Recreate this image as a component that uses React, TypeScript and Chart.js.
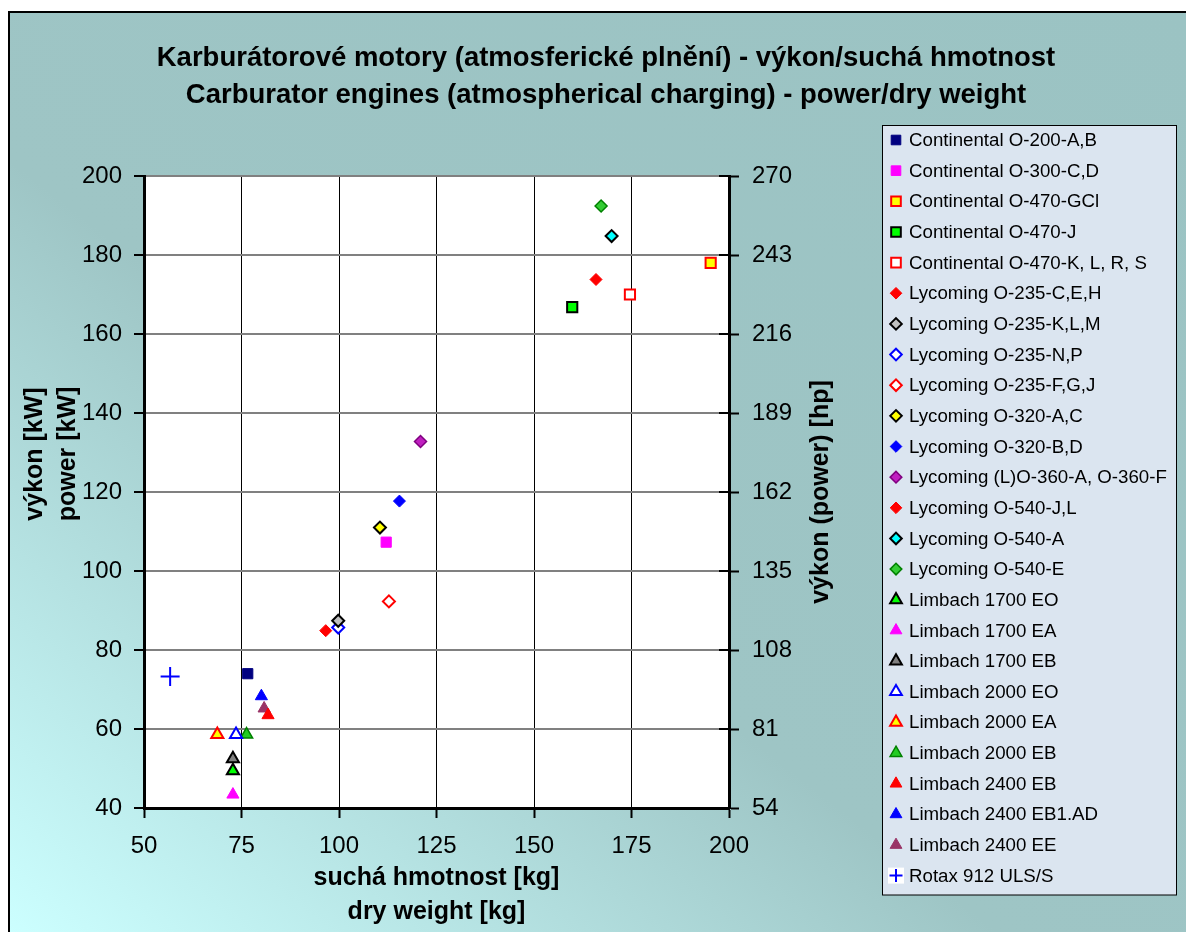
import React, { useEffect, useRef } from 'react';
import { Chart, registerables } from 'chart.js';

Chart.register(...registerables);

const FONT = '"Liberation Sans", Arial, Helvetica, sans-serif';

// ---- data ----
const seriesNames = [
  'Continental O-200-A,B',
  'Continental O-300-C,D',
  'Continental O-470-GCl',
  'Continental O-470-J',
  'Continental O-470-K, L, R, S',
  'Lycoming O-235-C,E,H',
  'Lycoming O-235-K,L,M',
  'Lycoming O-235-N,P',
  'Lycoming O-235-F,G,J',
  'Lycoming O-320-A,C',
  'Lycoming O-320-B,D',
  'Lycoming (L)O-360-A, O-360-F',
  'Lycoming O-540-J,L',
  'Lycoming O-540-A',
  'Lycoming O-540-E',
  'Limbach 1700 EO',
  'Limbach 1700 EA',
  'Limbach 1700 EB',
  'Limbach 2000 EO',
  'Limbach 2000 EA',
  'Limbach 2000 EB',
  'Limbach 2400 EB',
  'Limbach 2400 EB1.AD',
  'Limbach 2400 EE',
  'Rotax 912 ULS/S',
];

const dryWeightKg = [
  76.6, 112.1, 195.3, 159.8, 174.6,
  96.6, 99.8, 99.8, 112.8, 110.5, 115.5, 120.9, 165.9, 169.9, 167.2,
  72.8, 72.8, 72.8, 73.6, 68.8, 76.3, 81.8, 80.1, 80.8,
  56.7,
];

const powerKW = [
  74.0, 107.3, 178.0, 166.8, 170.0,
  84.9, 87.4, 85.7, 92.3, 111.0, 117.7, 132.8, 173.8, 184.8, 192.4,
  49.4, 43.4, 52.5, 58.6, 58.6, 58.6, 63.5, 68.3, 65.2,
  73.3,
];

const xTickValues = [50, 75, 100, 125, 150, 175, 200];
const kwTickValues = [40, 60, 80, 100, 120, 140, 160, 180, 200];
const hpTickValues = [54, 81, 108, 135, 162, 189, 216, 243, 270];

const titleLines = [
  'Karburátorové motory (atmosferické plnění) - výkon/suchá hmotnost',
  'Carburator engines (atmospherical charging) - power/dry weight',
];
const xTitleLines = ['suchá hmotnost [kg]', 'dry weight [kg]'];
const yTitleLines = ['výkon [kW]', 'power [kW]'];
const y2Title = 'výkon (power) [hp]';

// ---- styles ----
const markerStyle = [
  'rect', 'rect', 'rect', 'rect', 'rect',
  'rectRot', 'rectRot', 'rectRot', 'rectRot', 'rectRot', 'rectRot', 'rectRot', 'rectRot', 'rectRot', 'rectRot',
  'triangle', 'triangle', 'triangle', 'triangle', 'triangle', 'triangle', 'triangle', 'triangle', 'triangle',
  'cross',
];
const fillColors = [
  '#000080', '#FF00FF', '#FFFF00', '#00FF00', '#FFFFFF',
  '#FF0000', '#C0C0C0', '#FFFFFF', '#FFFFFF', '#FFFF00', '#0000FF', '#C020C0', '#FF0000', '#00FFFF', '#33CC33',
  '#00FF00', '#FF00FF', '#808080', '#FFFFFF', '#FFFF00', '#22CC22', '#FF0000', '#0000FF', '#993366',
  '#0000FF',
];
const strokeColors = [
  '#000080', '#FF00FF', '#FF0000', '#000000', '#FF0000',
  '#FF0000', '#000000', '#0000FF', '#FF0000', '#000000', '#0000FF', '#800080', '#FF0000', '#000000', '#008000',
  '#000000', '#FF00FF', '#000000', '#0000FF', '#FF0000', '#008000', '#FF0000', '#0000FF', '#993366',
  '#0000FF',
];
const strokeWidths = [
  1, 1, 2, 2, 2,
  1, 2, 2, 2, 2, 1, 1.5, 1, 2, 1.5,
  2, 1, 2, 2, 2, 1.5, 1, 1, 1,
  2,
];
const plotRadius: Record<string, number> = { rect: 7.2, rectRot: 6, triangle: 7, cross: 9.5 };
const legendRadius: Record<string, number> = { rect: 6.8, rectRot: 5.8, triangle: 6.8, cross: 6.5 };

function drawMarker(ctx: CanvasRenderingContext2D, style: string, x: number, y: number, r: number,
  fill: string, stroke: string, lw: number) {
  ctx.save();
  ctx.beginPath();
  if (style === 'rect') {
    const s = Math.SQRT1_2 * r;
    ctx.rect(x - s, y - s, 2 * s, 2 * s);
  } else if (style === 'rectRot') {
    ctx.moveTo(x - r, y);
    ctx.lineTo(x, y - r);
    ctx.lineTo(x + r, y);
    ctx.lineTo(x, y + r);
    ctx.closePath();
  } else if (style === 'triangle') {
    const a = (2 * Math.PI) / 3;
    ctx.moveTo(x, y - r);
    ctx.lineTo(x + Math.sin(a) * r, y - Math.cos(a) * r);
    ctx.lineTo(x + Math.sin(2 * a) * r, y - Math.cos(2 * a) * r);
    ctx.closePath();
  } else if (style === 'cross') {
    ctx.fillStyle = '#FFFFFF';
    ctx.fillRect(x - 8, y - 8, 16, 16);
    ctx.beginPath();
    ctx.moveTo(x, y - r);
    ctx.lineTo(x, y + r);
    ctx.moveTo(x - r, y);
    ctx.lineTo(x + r, y);
    ctx.strokeStyle = stroke;
    ctx.lineWidth = lw;
    ctx.stroke();
    ctx.restore();
    return;
  }
  ctx.fillStyle = fill;
  ctx.fill();
  ctx.strokeStyle = stroke;
  ctx.lineWidth = lw;
  ctx.stroke();
  ctx.restore();
}

const decorPlugin = {
  id: 'decor',
  beforeDraw(chart: any) {
    const { ctx, width, height, chartArea } = chart;
    ctx.save();
    // gradient background
    ctx.save();
    ctx.translate(0, 4);
    ctx.scale(width, height - 4);
    const g = ctx.createLinearGradient(0, 1, 1, 0);
    g.addColorStop(0, '#CCFFFF');
    g.addColorStop(0.42, '#9EC5C5');
    g.addColorStop(1, '#9BC3C3');
    ctx.fillStyle = g;
    ctx.fillRect(0, 0, 1, 1);
    ctx.restore();
    // frame
    ctx.strokeStyle = '#000';
    ctx.lineWidth = 2;
    ctx.beginPath();
    ctx.moveTo(1, height);
    ctx.lineTo(1, 4);
    ctx.lineTo(width, 4);
    ctx.stroke();
    // plot area
    ctx.fillStyle = '#FFFFFF';
    ctx.fillRect(chartArea.left, chartArea.top, chartArea.right - chartArea.left, chartArea.bottom - chartArea.top);
    // legend box
    ctx.fillStyle = '#DBE5F0';
    ctx.fillRect(874.5, 117.5, 294, 769.5);
    ctx.strokeStyle = '#000';
    ctx.lineWidth = 1;
    ctx.strokeRect(874.5, 117.5, 294, 769.5);
    // main title
    ctx.fillStyle = '#000';
    ctx.textAlign = 'center';
    ctx.textBaseline = 'middle';
    ctx.font = `bold 27.5px ${FONT}`;
    ctx.fillText(titleLines[0], 598, 50);
    ctx.fillText(titleLines[1], 598, 87);
    // x title
    ctx.font = `bold 25px ${FONT}`;
    const cx = (chartArea.left + chartArea.right) / 2;
    ctx.fillText(xTitleLines[0], cx, 870);
    ctx.fillText(xTitleLines[1], cx, 904);
    // y title
    ctx.save();
    ctx.translate(27, 446);
    ctx.rotate(-Math.PI / 2);
    ctx.fillText(yTitleLines[0], 0, 0);
    ctx.restore();
    ctx.save();
    ctx.translate(60, 446);
    ctx.rotate(-Math.PI / 2);
    ctx.fillText(yTitleLines[1], 0, 0);
    ctx.restore();
    // y2 title
    ctx.save();
    ctx.translate(813, (chartArea.top + chartArea.bottom) / 2);
    ctx.rotate(-Math.PI / 2);
    ctx.fillText(y2Title, 0, 0);
    ctx.restore();
    ctx.restore();
  },
  afterDraw(chart: any) {
    const { ctx, chartArea } = chart;
    ctx.save();
    // inner ticks of right axis
    const y2 = chart.scales.y2;
    ctx.strokeStyle = '#000';
    ctx.lineWidth = 2;
    ctx.beginPath();
    hpTickValues.forEach((v) => {
      const py = Math.round(y2.getPixelForValue(v));
      ctx.moveTo(chartArea.right - 10, py);
      ctx.lineTo(chartArea.right, py);
    });
    ctx.stroke();
    // legend entries
    ctx.font = `18.7px ${FONT}`;
    ctx.textAlign = 'left';
    ctx.textBaseline = 'middle';
    chart.data.datasets.forEach((ds: any, i: number) => {
      const y = 132 + i * 30.65;
      const st = markerStyle[i];
      drawMarker(ctx, st, 888, y, legendRadius[st], fillColors[i], strokeColors[i], Math.min(strokeWidths[i], 2));
      ctx.fillStyle = '#000';
      ctx.fillText(ds.label, 901, y + 1);
    });
    ctx.restore();
  },
};

const tickFont = { family: FONT, size: 24 };

export default function App() {
  const ref = useRef<HTMLCanvasElement>(null);
  useEffect(() => {
    if (!ref.current) return;
    const datasets = seriesNames.map((name, i) => ({
      label: name,
      data: [{ x: dryWeightKg[i], y: powerKW[i] }],
      yAxisID: 'y',
      showLine: false,
      pointStyle: markerStyle[i] as any,
      pointRadius: plotRadius[markerStyle[i]],
      pointHoverRadius: plotRadius[markerStyle[i]],
      backgroundColor: fillColors[i],
      borderColor: strokeColors[i],
      pointBorderWidth: strokeWidths[i],
      borderWidth: strokeWidths[i],
    }));
    const chart = new Chart(ref.current, {
      type: 'scatter',
      data: { datasets },
      plugins: [decorPlugin],
      options: {
        responsive: false,
        animation: false,
        devicePixelRatio: 1,
        color: '#000',
        layout: { padding: { left: 0, right: 357, top: 168, bottom: 64 } },
        plugins: {
          legend: { display: false },
          tooltip: { enabled: false },
          title: { display: false },
        },
        scales: {
          x: {
            type: 'linear',
            position: 'bottom',
            min: 50,
            max: 200,
            afterBuildTicks: (s: any) => { s.ticks = xTickValues.map((v) => ({ value: v })); },
            afterFit: (s: any) => { s.height = 60; },
            grid: { color: '#000', lineWidth: 1, tickColor: '#000', tickWidth: 2, tickLength: 10 },
            border: { color: '#000', width: 3 },
            ticks: { font: tickFont, color: '#000', padding: 14, maxRotation: 0 },
          },
          y: {
            type: 'linear',
            position: 'left',
            min: 40,
            max: 200,
            afterBuildTicks: (s: any) => { s.ticks = kwTickValues.map((v) => ({ value: v })); },
            afterFit: (s: any) => { s.width = 136; },
            grid: { color: '#808080', lineWidth: 2, tickColor: '#000', tickWidth: 2, tickLength: 10 },
            border: { color: '#000', width: 3 },
            ticks: { font: tickFont, color: '#000', padding: 12 },
          },
          y2: {
            type: 'linear',
            position: 'right',
            min: 54,
            max: 270,
            afterBuildTicks: (s: any) => { s.ticks = hpTickValues.map((v) => ({ value: v })); },
            afterFit: (s: any) => { s.width = 100; },
            grid: { drawOnChartArea: false, tickColor: '#000', tickWidth: 2, tickLength: 10 },
            border: { color: '#000', width: 3 },
            ticks: { font: tickFont, color: '#000', padding: 13 },
          },
        },
      } as any,
    });
    return () => chart.destroy();
  }, []);
  return (
    <div style={{ position: 'fixed', left: 8, top: 8, width: 1178, height: 924, overflow: 'hidden' }}>
      <canvas ref={ref} width={1178} height={924} style={{ display: 'block', width: 1178, height: 924 }} />
    </div>
  );
}
